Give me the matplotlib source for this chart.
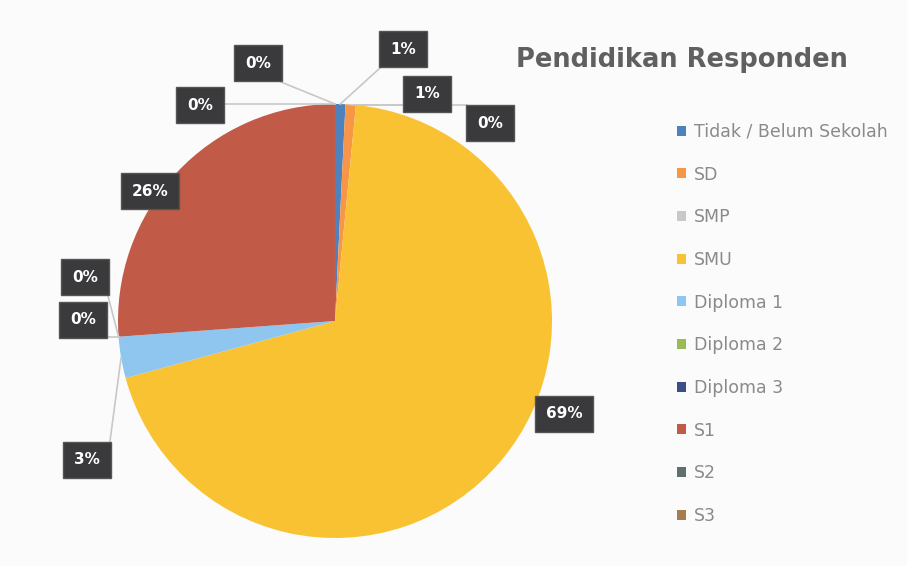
import numpy as np
import matplotlib.pyplot as plt

kategori = ['Tidak / Belum Sekolah', 'SD', 'SMP', 'SMU', 'Diploma 1',
            'Diploma 2', 'Diploma 3', 'S1', 'S2', 'S3']
jumlah = [1, 1, 0, 90, 4, 0, 0, 34, 0, 0]
warna = ['#4F81BD', '#F79646', '#C8C8C8', '#F8C232', '#8EC6F0',
         '#9BBB59', '#3B4E87', '#C25A48', '#5F7070', '#A67B50']

W, H = 907, 566
# label box centres in pixel coords (x, y from top)
pos_label = [(403, 49), (427, 94), (490, 123), (564, 414), (87, 460),
             (83, 320), (85, 277), (150, 191), (200, 105), (258, 63)]
pakai_garis = [True, True, True, False, True, True, True, False, True, True]

fig = plt.figure(figsize=(W / 100, H / 100), dpi=100)
fig.patch.set_facecolor('#FBFBFC')
ax = fig.add_axes([0, 0, 1, 1])

cx, cy, r = 335, H - 321, 217
wedges, _ = ax.pie(jumlah, colors=warna, startangle=90, counterclock=False,
                   center=(cx, cy), radius=r, frame=True,
                   wedgeprops=dict(linewidth=0))
ax.set_xlim(0, W)
ax.set_ylim(0, H)
ax.set_aspect('equal')
ax.axis('off')

total = sum(jumlah)
sudut = 90
for i, v in enumerate(jumlah):
    span = v / total * 360
    mid = np.radians(sudut - span / 2)
    sudut -= span
    lx, ly = pos_label[i][0], H - pos_label[i][1]
    if pakai_garis[i]:
        ex, ey = cx + r * np.cos(mid), cy + r * np.sin(mid)
        bx = np.clip(ex, lx - 23, lx + 23)
        by = np.clip(ey, ly - 19, ly + 19)
        ax.plot([ex, bx], [ey, by], color='#C8C8C8', lw=1.2, zorder=1)
    ax.text(lx, ly, f'{v / total * 100:.0f}%', ha='center', va='center',
            color='white', fontsize=11, fontweight='bold', zorder=5,
            bbox=dict(boxstyle='square,pad=0.7', fc='#3A3A3C', ec='#555555'))

ax.text(682, H - 60, 'Pendidikan Responden', ha='center', va='center',
        fontsize=18.5, fontweight='bold', color='#606060')

leg = ax.legend(wedges, kategori, loc='upper left', bbox_to_anchor=(670 / W, 1 - 116 / H),
                bbox_transform=fig.transFigure, frameon=False, fontsize=12.5,
                handlelength=0.5, handleheight=0.5, handletextpad=0.5,
                labelspacing=1.42, borderaxespad=0)
for t in leg.get_texts():
    t.set_color('#8A8A8A')

fig.savefig('out.png', dpi=100, facecolor=fig.get_facecolor())
